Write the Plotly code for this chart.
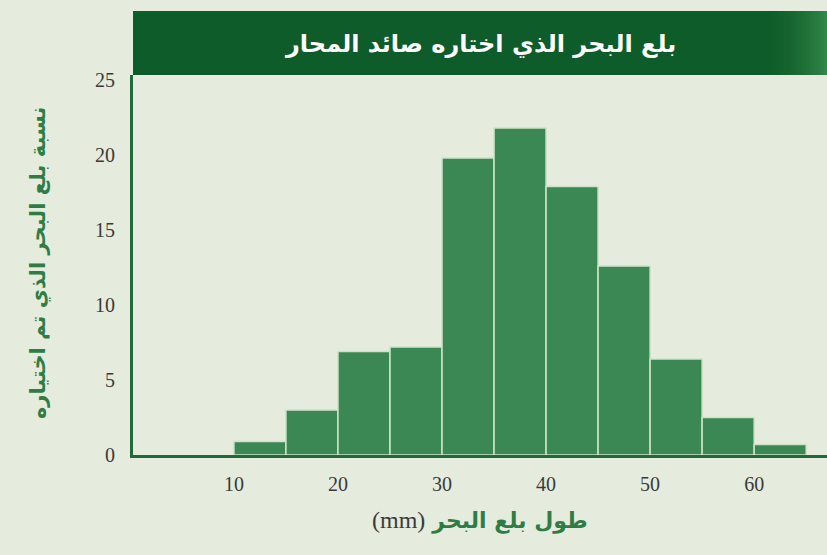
import plotly.graph_objects as go

bin_starts = [10, 15, 20, 25, 30, 35, 40, 45, 50, 55, 60]
bin_width = 5
percentages = [0.9, 3.0, 6.9, 7.2, 19.8, 21.8, 17.9, 12.6, 6.4, 2.5, 0.7]
x_ticks = [10, 20, 30, 40, 50, 60]
y_ticks = [0, 5, 10, 15, 20, 25]

title_text = "بلع البحر الذي اختاره صائد المحار"
y_title = "نسبة بلع البحر الذي تم اختياره"
x_title_ar = "طول بلع البحر"
x_title_unit = "(mm)"

bg = "#e5ebdd"
green_dark = (14, 92, 41)
green_light = (50, 134, 72)
bar_color = "#3c8854"
axis_green = "#1f6b39"
label_green = "#2f7d45"

centers = [s + bin_width / 2 for s in bin_starts]

fig = go.Figure()
fig.add_trace(go.Bar(
    x=centers, y=percentages, width=[bin_width] * len(centers),
    marker=dict(color=bar_color, line=dict(color="#cfe2c6", width=1.5)),
    hoverinfo="skip",
))

W, H = 827, 555
ml, mr, mt, mb = 133, 0, 75, 100
ph = H - mt - mb
band_h = 64 / ph

shapes = [dict(type="rect", xref="paper", yref="paper", x0=0, x1=1,
               y0=1, y1=1 + band_h, fillcolor="rgb(%d,%d,%d)" % green_dark,
               line=dict(width=0), layer="above")]
n = 24
for i in range(n):
    t = (i + 1) / n
    c = tuple(int(green_dark[k] + (green_light[k] - green_dark[k]) * t ** 2) for k in range(3))
    x0 = 0.9 + 0.1 * i / n
    shapes.append(dict(type="rect", xref="paper", yref="paper", x0=x0, x1=1,
                       y0=1, y1=1 + band_h, fillcolor="rgb(%d,%d,%d)" % c,
                       line=dict(width=0), layer="above"))

fig.update_layout(
    width=W, height=H,
    margin=dict(l=ml, r=mr, t=mt, b=mb, autoexpand=False),
    paper_bgcolor=bg, plot_bgcolor=bg,
    showlegend=False,
    bargap=0,
    xaxis=dict(
        range=[0.3, 67], tickvals=x_ticks, ticktext=[str(v) for v in x_ticks],
        showgrid=False, zeroline=False, showline=True, linecolor=axis_green, linewidth=3,
        ticks="", ticklabelstandoff=9,
        tickfont=dict(family="Liberation Serif", size=20, color="#3a3a3a"),
    ),
    yaxis=dict(
        range=[0, 25.33], tickvals=y_ticks, ticktext=[str(v) for v in y_ticks],
        showgrid=False, zeroline=False, showline=True, linecolor=axis_green, linewidth=3,
        ticks="", ticklabelstandoff=11,
        tickfont=dict(family="Liberation Serif", size=20, color="#3a3a3a"),
    ),
    shapes=shapes,
    annotations=[
        dict(text="<b>" + title_text + "</b>", xref="paper", yref="paper",
             x=0.5, y=1 + 31 / ph, showarrow=False, xanchor="center", yanchor="middle",
             font=dict(family="DejaVu Sans", size=24, color="white")),
        dict(text="<b>" + y_title + "</b>", xref="paper", yref="paper",
             x=(38 - ml) / (W - ml - mr), y=0.505, showarrow=False, textangle=-90,
             xanchor="center", yanchor="middle",
             font=dict(family="DejaVu Sans", size=21, color=label_green)),
        dict(text='<span style="color:#3a3a3a;font-family:Liberation Serif;font-size:24px">'
             + x_title_unit + '</span> <b>' + x_title_ar + '</b>',
             xref="paper", yref="paper", x=0.5, y=-(520 - (H - mb)) / ph,
             showarrow=False, xanchor="center", yanchor="middle",
             font=dict(family="DejaVu Sans", size=22, color=label_green)),
    ],
)

fig.write_html("out.html", config={"displayModeBar": False, "staticPlot": True},
               post_script="document.body.style.margin='0';document.body.style.overflow='hidden';")
